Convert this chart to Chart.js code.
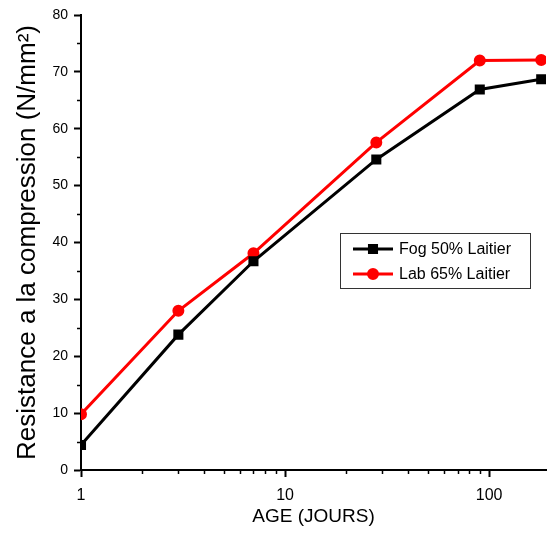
<!DOCTYPE html>
<html>
<head>
<meta charset="utf-8">
<script src="https://cdn.jsdelivr.net/npm/chart.js@4/dist/chart.umd.min.js"></script>
<style>
  html, body { margin: 0; padding: 0; background: #fff; }
  #wrap { width: 547px; height: 544px; }
</style>
</head>
<body>
<div id="wrap"><canvas id="chart" width="547" height="544"></canvas></div>
<script>
// Data
const ages = [1, 3, 7, 28, 90, 180];
const fogValues = [4.4, 23.8, 36.7, 54.6, 66.9, 68.7];
const labValues = [9.8, 28.0, 38.1, 57.6, 72.0, 72.1];
const seriesLabels = ['Fog 50% Laitier', 'Lab 65% Laitier'];
const xTicks = [1, 2, 3, 4, 5, 6, 7, 8, 9, 10, 20, 30, 40, 50, 60, 70, 80, 90, 100];
const xMajor = [1, 10, 100];

const FONT = "'Liberation Sans', Arial, sans-serif";

function isMajor(axis, v) {
  return axis === 'x' ? xMajor.includes(v) : v % 10 === 0;
}

// draws the short minor tick marks (main ticks come from the grid)
const minorTicks = {
  id: 'minorTicks',
  afterDraw(chart) {
    const ctx = chart.ctx;
    ctx.save();
    ctx.strokeStyle = '#000';
    ctx.lineWidth = 1.5;
    const xs = chart.scales.x, ys = chart.scales.y;
    xs.ticks.forEach(t => {
      if (isMajor('x', t.value)) return;
      const px = Math.round(xs.getPixelForValue(t.value)) + 0.5;
      ctx.beginPath();
      ctx.moveTo(px, xs.top);
      ctx.lineTo(px, xs.top + 4);
      ctx.stroke();
    });
    ys.ticks.forEach(t => {
      if (isMajor('y', t.value)) return;
      const py = Math.round(ys.getPixelForValue(t.value)) + 0.5;
      ctx.beginPath();
      ctx.moveTo(ys.right, py);
      ctx.lineTo(ys.right - 4, py);
      ctx.stroke();
    });
    ctx.restore();
  }
};

// legend box drawn inside the plot like the original
const boxLegend = {
  id: 'boxLegend',
  afterDraw(chart) {
    const ctx = chart.ctx;
    ctx.save();
    ctx.strokeStyle = '#333';
    ctx.lineWidth = 1;
    ctx.strokeRect(340.5, 233.5, 190, 55);
    chart.data.datasets.forEach((ds, i) => {
      const y = 249 + i * 25;
      ctx.strokeStyle = ds.borderColor;
      ctx.lineWidth = 3;
      ctx.beginPath();
      ctx.moveTo(353, y);
      ctx.lineTo(393, y);
      ctx.stroke();
      Chart.helpers.drawPoint(ctx, {
        pointStyle: ds.pointStyle, radius: ds.pointRadius, borderWidth: 1, rotation: 0
      }, 373, y);
      ctx.fillStyle = ds.pointBackgroundColor;
      ctx.fill();
      ctx.fillStyle = '#000';
      ctx.font = '16px ' + FONT;
      ctx.textBaseline = 'middle';
      ctx.fillText(ds.label, 399, y + 1);
    });
    ctx.restore();
  }
};

const data = {
  datasets: [
    {
      label: seriesLabels[0],
      data: ages.map((a, i) => ({ x: a, y: fogValues[i] })),
      borderColor: '#000',
      backgroundColor: '#000',
      pointBackgroundColor: '#000',
      pointBorderColor: '#000',
      pointStyle: 'rect',
      pointRadius: 5,
      borderWidth: 3,
      tension: 0
    },
    {
      label: seriesLabels[1],
      data: ages.map((a, i) => ({ x: a, y: labValues[i] })),
      borderColor: '#ff0000',
      backgroundColor: '#ff0000',
      pointBackgroundColor: '#ff0000',
      pointBorderColor: '#ff0000',
      pointStyle: 'circle',
      pointRadius: 4.5,
      borderWidth: 3,
      tension: 0
    }
  ]
};

const config = {
  type: 'line',
  data: data,
  options: {
    responsive: false,
    animation: false,
    // autoPadding off: the plot runs to the canvas edge like the original
    layout: { autoPadding: false, padding: { top: 15, right: 1, left: 0, bottom: 0 } },
    plugins: {
      legend: { display: false },
      tooltip: { enabled: false }
    },
    scales: {
      x: {
        type: 'logarithmic',
        min: 1,
        max: 190,
        afterBuildTicks: s => { s.ticks = xTicks.map(v => ({ value: v })); },
        afterFit: s => { s.height = 74; s.paddingRight = 0; s.paddingLeft = 0; },
        ticks: {
          autoSkip: false,
          maxRotation: 0,
          padding: 9,
          color: '#000',
          font: { family: FONT, size: 16 },
          callback: v => xMajor.includes(v) ? String(v) : ''
        },
        grid: {
          drawOnChartArea: false,
          tickLength: 7,
          tickWidth: 2,
          tickColor: c => (c.tick && isMajor('x', c.tick.value)) ? '#000' : 'rgba(0,0,0,0)'
        },
        border: { color: '#000', width: 2 },
        title: {
          display: true,
          text: 'AGE (JOURS)',
          color: '#000',
          font: { family: FONT, size: 19 },
          padding: { top: 0, bottom: 16 }
        }
      },
      y: {
        min: 0,
        max: 80,
        afterFit: s => { s.width = 81; },
        ticks: {
          stepSize: 5,
          autoSkip: false,
          padding: 6,
          color: '#000',
          font: { family: FONT, size: 14 },
          callback: v => v % 10 === 0 ? String(v) : ''
        },
        grid: {
          drawOnChartArea: false,
          tickLength: 7,
          tickWidth: 2,
          tickColor: c => (c.tick && isMajor('y', c.tick.value)) ? '#000' : 'rgba(0,0,0,0)'
        },
        border: { color: '#000', width: 2 },
        title: {
          display: true,
          text: 'Resistance a la compression (N/mm²)',
          color: '#000',
          font: { family: FONT, size: 26 },
          padding: { top: 12, bottom: 0 }
        }
      }
    }
  },
  plugins: [minorTicks, boxLegend]
};

new Chart(document.getElementById('chart').getContext('2d'), config);
</script>
</body>
</html>
